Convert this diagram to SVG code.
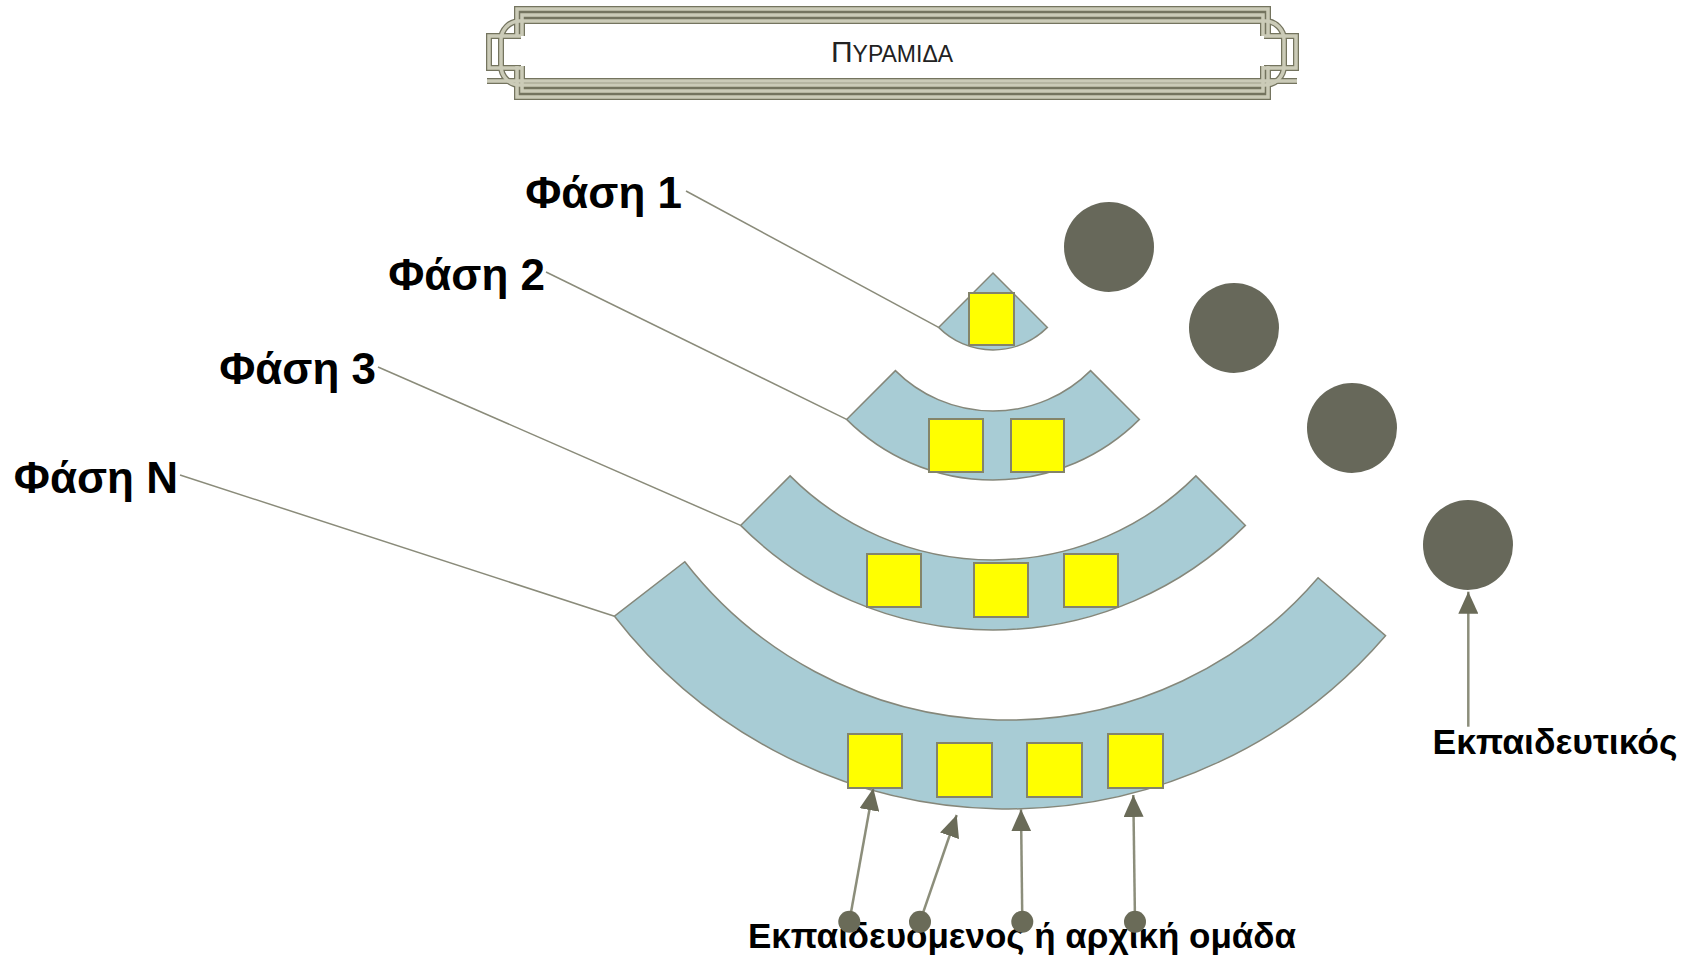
<svg xmlns="http://www.w3.org/2000/svg" width="1693" height="960" viewBox="0 0 1693 960">
<style>
.fr-d{fill:none;stroke:#74745f;stroke-width:6}
.fr-l{fill:none;stroke:#cbcbb8;stroke-width:3.5}
.ring{fill:#a8ccd5;stroke:#85877a;stroke-width:1.5}
.sq{fill:#ffff00;stroke:#84846a;stroke-width:2}
.lead{stroke:#8a8b7a;stroke-width:1.5;fill:none}
.arr{stroke:#8c8e7b;stroke-width:2.5;fill:none;marker-end:url(#ah)}
.dot{fill:#6a6b58}
.big{fill:#67685a}
.lbl{font-family:"Liberation Sans",Arial,sans-serif;font-weight:bold;fill:#000}
</style>
<defs>
<marker id="ah" markerUnits="userSpaceOnUse" markerWidth="24" markerHeight="20" refX="22" refY="10" orient="auto" viewBox="0 0 24 20">
<path d="M0,0 L22,10 L0,20 Z" fill="#6a6b58"/>
</marker>
<g id="frameShape">
<path d="M517,36 V9 H1268 V36 M517,66 V97 H1268 V66"/>
<path d="M522,36 V15 H1263 V36 M522,66 V91 H1263 V66"/>
<path d="M520,21 H1265 A19 19 0 0 1 1284 40 V66 A19 19 0 0 1 1265 85 H520 A19 19 0 0 1 501 66 V40 A19 19 0 0 1 520 21 Z"/>
<path d="M521,36 H489 V68 H521 M1264,36 H1296 V68 H1264"/>
<path d="M487,81 H1297"/>
</g>
</defs>
<rect width="1693" height="960" fill="#fff"/>

<g id="title">
<use href="#frameShape" class="fr-d"/>
<use href="#frameShape" class="fr-l"/>
<text x="892" y="62" text-anchor="middle" font-family="Liberation Sans,Arial,sans-serif" fill="#222"><tspan font-size="30">Π</tspan><tspan font-size="23">ΥΡΑΜΙΔΑ</tspan></text>
</g>

<g id="phase1">
<path class="ring" d="M993,273 L1047.4,327.4 A77 77 0 0 1 938.6,327.4 Z"/>
<rect class="sq" x="969" y="293" width="45" height="52"/>
</g>

<g id="phase2">
<path class="ring" d="M895.4,370.6 A138 138 0 0 0 1090.6,370.6 L1139.4,419.4 A207 207 0 0 1 846.6,419.4 Z"/>
<rect class="sq" x="929" y="419" width="54" height="53"/>
<rect class="sq" x="1011" y="419" width="53" height="53"/>
</g>

<g id="phase3">
<path class="ring" d="M790.1,475.9 A287 287 0 0 0 1195.9,475.9 L1245.4,525.4 A357 357 0 0 1 740.6,525.4 Z"/>
<rect class="sq" x="867" y="554" width="54" height="53"/>
<rect class="sq" x="974" y="563" width="54" height="54"/>
<rect class="sq" x="1064" y="554" width="54" height="53"/>
</g>

<g id="phaseN">
<path class="ring" d="M684.8,561.7 A409 409 0 0 0 1318.1,577.7 L1385.5,635.7 A498 498 0 0 1 614.5,616.2 Z"/>
<rect class="sq" x="848" y="734" width="54" height="54"/>
<rect class="sq" x="937" y="743" width="55" height="54"/>
<rect class="sq" x="1027" y="743" width="55" height="54"/>
<rect class="sq" x="1108" y="734" width="55" height="54"/>
</g>

<g id="teachers">
<circle class="big" cx="1109" cy="247" r="45"/>
<circle class="big" cx="1234" cy="328" r="45"/>
<circle class="big" cx="1352" cy="428" r="45"/>
<circle class="big" cx="1468" cy="545" r="45"/>
</g>

<g id="labels">
<text class="lbl" x="682" y="208" font-size="44" text-anchor="end">Φάση 1</text>
<text class="lbl" x="545" y="290" font-size="44" text-anchor="end">Φάση 2</text>
<text class="lbl" x="376" y="384" font-size="44" text-anchor="end">Φάση 3</text>
<text class="lbl" x="178" y="493" font-size="44" text-anchor="end">Φάση N</text>
<text class="lbl" x="1555" y="754" font-size="35.5" text-anchor="middle">Εκπαιδευτικός</text>
<text class="lbl" x="1022" y="948" font-size="35" text-anchor="middle">Εκπαιδευομενος ή αρχική ομάδα</text>
</g>

<g id="connectors">
<line class="lead" x1="686" y1="191" x2="938.6" y2="327.4"/>
<line class="lead" x1="546" y1="272" x2="846.6" y2="419.4"/>
<line class="lead" x1="378" y1="367" x2="740.6" y2="525.4"/>
<line class="lead" x1="180" y1="475" x2="614.5" y2="616.2"/>
<line class="arr" x1="849.3" y1="921.7" x2="873.3" y2="788.3"/>
<line class="arr" x1="920" y1="921.7" x2="956.7" y2="815"/>
<line class="arr" x1="1022.3" y1="921.7" x2="1021" y2="809.3"/>
<line class="arr" x1="1135" y1="921.7" x2="1133.3" y2="795"/>
<line class="arr" x1="1468.3" y1="726.7" x2="1468.3" y2="591.7"/>
<circle class="dot" cx="849.3" cy="921.7" r="11"/>
<circle class="dot" cx="920" cy="921.7" r="11"/>
<circle class="dot" cx="1022.3" cy="921.7" r="11"/>
<circle class="dot" cx="1135" cy="921.7" r="11"/>
</g>
</svg>
